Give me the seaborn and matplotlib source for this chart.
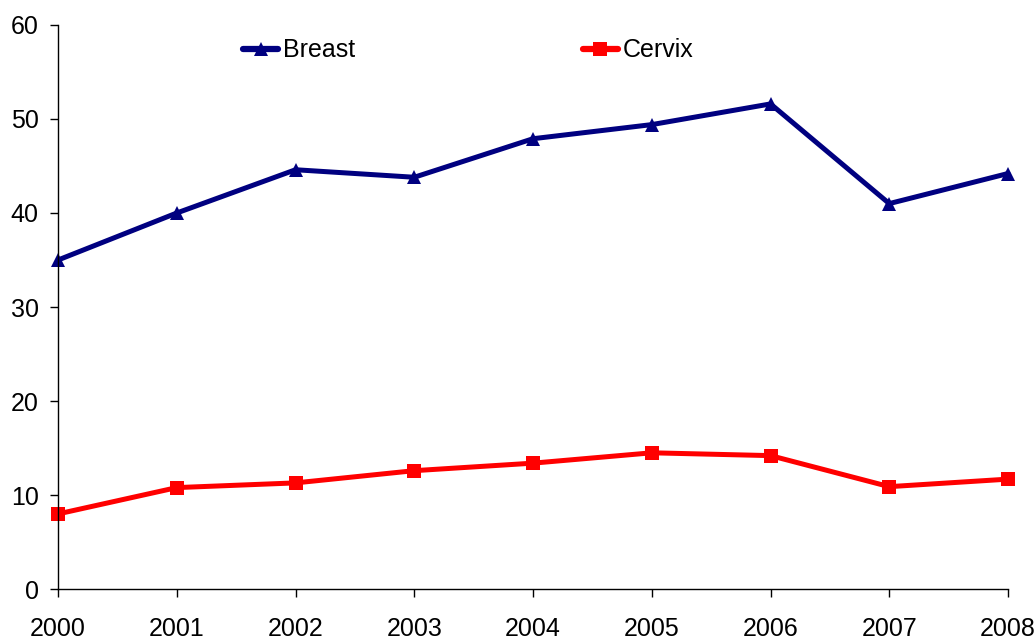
import numpy as np
import pandas as pd
import matplotlib.pyplot as plt
import seaborn as sns

years = [2000, 2001, 2002, 2003, 2004, 2005, 2006, 2007, 2008]
breast = [35.0, 40.0, 44.6, 43.8, 47.9, 49.4, 51.6, 41.0, 44.2]
cervix = [8.0, 10.8, 11.3, 12.6, 13.4, 14.5, 14.2, 10.9, 11.7]

df = pd.DataFrame({'year': years * 2,
                   'value': breast + cervix,
                   'site': ['Breast'] * len(years) + ['Cervix'] * len(years)})

sns.set_style('white')
plt.rcParams['font.family'] = ['Liberation Sans', 'DejaVu Sans']

fig = plt.figure(figsize=(10.36, 6.39), dpi=100)
ax = fig.add_axes([0.056, 0.078, 0.917, 0.883])

sns.lineplot(data=df, x='year', y='value', hue='site', style='site',
             palette={'Breast': '#000080', 'Cervix': '#FF0000'},
             markers={'Breast': '^', 'Cervix': 's'}, dashes=False,
             linewidth=3.6, markersize=10, markeredgewidth=0, ax=ax)
for line in ax.lines:
    line.set_clip_on(False)

ax.set_xlim(2000, 2008)
ax.set_ylim(0, 60)
ax.set_xticks(years)
ax.set_yticks(range(0, 61, 10))
ax.set_xlabel('')
ax.set_ylabel('')
ax.tick_params(axis='both', labelsize=18, direction='out', length=6, width=1,
               color='black', labelcolor='black', left=True, bottom=True)
ax.tick_params(axis='x', pad=14)
ax.tick_params(axis='y', pad=8)
for s in ['top', 'right']:
    ax.spines[s].set_visible(False)
for s in ['left', 'bottom']:
    ax.spines[s].set_color('black')
    ax.spines[s].set_linewidth(1)

leg = ax.legend(title=None, ncol=2, frameon=False, loc='upper left',
                bbox_to_anchor=(0.195, 0.976), fontsize=18, columnspacing=9.1,
                handlelength=1.4, handletextpad=0.2, borderpad=0, borderaxespad=0)
for t in leg.get_texts():
    t.set_color('black')
for h in leg.legend_handles:
    h.set_linewidth(4.5)

fig.savefig('out.png', dpi=100)
